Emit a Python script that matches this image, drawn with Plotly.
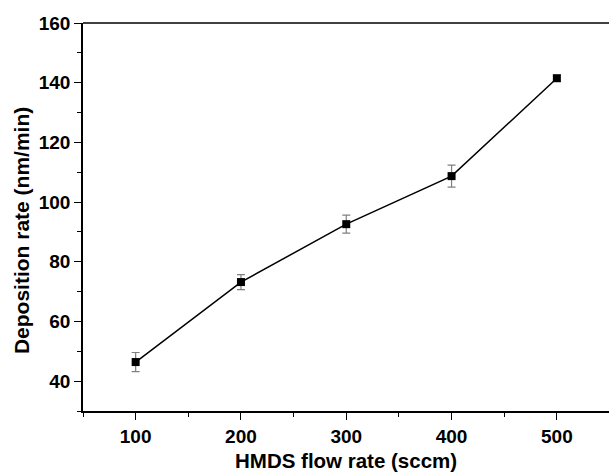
import plotly.graph_objects as go

flow = [100, 200, 300, 400, 500]
rate = [46.4, 73.2, 92.6, 108.7, 141.5]
err = [3.2, 2.5, 3.0, 3.7, 1.0]
x_ticks = [100, 200, 300, 400, 500]
y_ticks = [40, 60, 80, 100, 120, 140, 160]

fig = go.Figure()
fig.add_trace(go.Scatter(
    x=flow, y=rate, mode="lines+markers",
    line=dict(color="black", width=1.5),
    marker=dict(symbol="square", size=8, color="black"),
    error_y=dict(type="data", array=err, visible=True, color="#808080", thickness=1.2, width=4),
    showlegend=False,
))

font_fam = "Liberation Sans, Arial, sans-serif"
fig.update_layout(
    width=609, height=475,
    margin=dict(l=83, r=0, t=23, b=64),
    plot_bgcolor="white", paper_bgcolor="white",
    font=dict(family=font_fam, color="black"),
    shapes=[dict(type="line", xref="paper", yref="paper", x0=0, x1=1, y0=1, y1=1,
                 line=dict(color="black", width=1.5))],
    annotations=[
        dict(text="<b>HMDS flow rate (sccm)</b>", xref="paper", yref="paper",
             x=0.5, y=-0.128, xanchor="center", yanchor="middle", showarrow=False,
             font=dict(size=20.5, family=font_fam)),
        dict(text="<b>Deposition rate (nm/min)</b>", xref="paper", yref="paper",
             x=-0.118, y=0.466, xanchor="center", yanchor="middle", showarrow=False,
             textangle=-90, font=dict(size=21, family=font_fam)),
    ],
)
fig.update_xaxes(
    range=[50, 549.5], tickvals=x_ticks, ticktext=[f"<b>{v}</b>" for v in x_ticks],
    showline=True, linecolor="black", linewidth=1.5, showgrid=False, zeroline=False,
    ticks="outside", ticklen=7, tickwidth=1.2, tickcolor="black",
    tickfont=dict(size=19, family=font_fam),
    minor=dict(ticks="outside", ticklen=4, tickwidth=1.2, tickcolor="black", dtick=50, tick0=50, showgrid=False),
)
fig.update_yaxes(
    range=[30, 160], tickvals=y_ticks, ticktext=[f"<b>{v}</b>" for v in y_ticks],
    showline=True, linecolor="black", linewidth=1.5, showgrid=False, zeroline=False,
    ticks="outside", ticklen=7, tickwidth=1.2, tickcolor="black",
    tickfont=dict(size=19, family=font_fam),
    minor=dict(ticks="outside", ticklen=4, tickwidth=1.2, tickcolor="black", dtick=10, tick0=30, showgrid=False),
)
fig.write_html("out.html")
